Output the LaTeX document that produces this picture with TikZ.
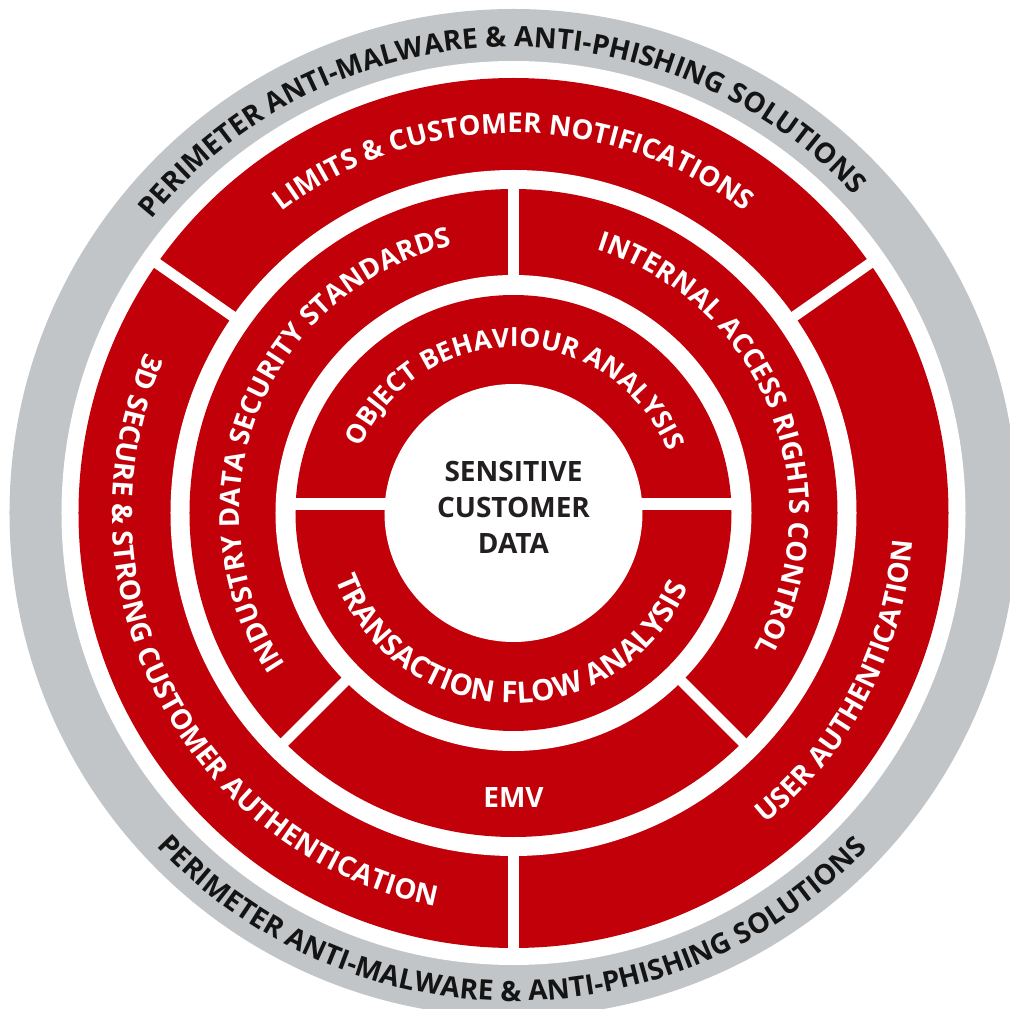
\documentclass[tikz,border=0pt]{standalone}
\usepackage{fontspec}
\setmainfont{Open Sans}
\usetikzlibrary{decorations.text}
\definecolor{ringred}{RGB}{193,0,9}
\definecolor{ringgray}{RGB}{194,197,200}
\definecolor{coretext}{RGB}{35,31,32}
\definecolor{graytext}{RGB}{20,20,20}
% #1 colour, #2 radius, #3 start angle, #4 end angle, #5 size, #6 text
\newcommand\arclabel[6]{%
  \path[decorate, decoration={text along path, text align=center,
    text={|\fontsize{#5}{#5}\selectfont\bfseries\color{#1}|#6}}]
    (#3:#2pt) arc[start angle=#3, end angle=#4, radius=#2pt];}
\begin{document}
\begin{tikzpicture}[x=1pt,y=1pt,
  gapline/.style={white, line width=10.5pt},
  labeltext/.style={font=\fontsize{28}{36}\selectfont\bfseries, align=center}]
\useasboundingbox (-513.5,-496) rectangle (495.5,513);
% rings
\fill[ringgray] (0,0) circle[radius=504pt];
\fill[white] (0,0) circle[radius=452pt];
\fill[ringred] (0,0) circle[radius=435pt];
\fill[white] (0,0) circle[radius=343pt];
\fill[ringred] (0,0) circle[radius=324pt];
\fill[white] (0,0) circle[radius=238pt];
\fill[ringred] (0,0) circle[radius=218pt];
\fill[white] (0,0) circle[radius=129pt];
% gaps
\foreach \a in {35,145,270} \draw[gapline] (\a:330pt) -- (\a:445pt);
\foreach \a in {90,225,315} \draw[gapline] (\a:222pt) -- (\a:338pt);
\fill[white] (-225,3) rectangle (225,15);
% centre
\node[labeltext, text=coretext] (core) at (0,6) {SENSITIVE\\CUSTOMER\\DATA};
\node[labeltext, text=white] (emv) at (0,-284.5) {EMV};
% gray ring texts
\arclabel{graytext}{466}{162}{22}{28}{PERIMETER ANTI-MALWARE {\&} ANTI-PHISHING SOLUTIONS}
\arclabel{graytext}{488}{199.8}{339.8}{28}{PERIMETER ANTI-MALWARE {\&} ANTI-PHISHING SOLUTIONS}
% ring 3
\arclabel{white}{380}{170}{10}{27.5}{LIMITS {\&} CUSTOMER NOTIFICATIONS}
\arclabel{white}{401}{127.6}{287.6}{28}{3D SECURE {\&} STRONG CUSTOMER AUTHENTICATION}
\arclabel{white}{400}{-107.5}{52.5}{28}{USER AUTHENTICATION}
% ring 2
\arclabel{white}{274}{243.3}{73.3}{27.5}{INDUSTRY DATA SECURITY STANDARDS}
\arclabel{white}{276}{106.5}{-63.5}{27.5}{INTERNAL ACCESS RIGHTS CONTROL}
% ring 1
\arclabel{white}{166}{179.2}{-0.8}{26.5}{OBJECT BEHAVIOUR ANALYSIS}
\arclabel{white}{190}{178.7}{358.7}{29.5}{TRANSACTION FLOW ANALYSIS}
\end{tikzpicture}
\end{document}
